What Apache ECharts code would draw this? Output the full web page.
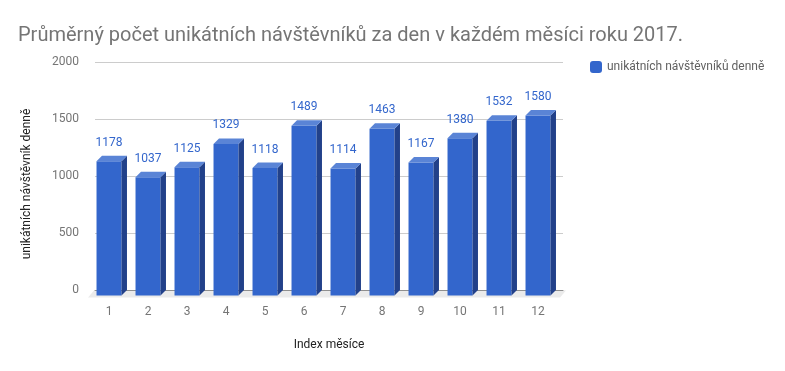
<!DOCTYPE html>
<html>
<head>
<meta charset="utf-8">
<script src="https://cdn.jsdelivr.net/npm/echarts@6/dist/echarts.min.js"></script>
<style>html,body{margin:0;padding:0;background:#fff}#c{width:785px;height:371px}</style>
</head>
<body>
<div id="c"></div>
<script>
const months = ['1','2','3','4','5','6','7','8','9','10','11','12'];
const visitors = [1178, 1037, 1125, 1329, 1118, 1489, 1114, 1463, 1167, 1380, 1532, 1580];
const yTicks = [0, 500, 1000, 1500, 2000];
const seriesName = 'unikátních návštěvníků denně';

const FONT = 'Roboto';
const D = 5.5;
const chart = echarts.init(document.getElementById('c'), null, {renderer: 'canvas'});

function renderBar(params, api) {
  const i = api.value(0), v = api.value(1);
  const back = api.coord([i, v]);
  const base = api.coord([i, 0]);
  const band = api.size([1, 0])[0];
  const w = band * 0.64;
  const cx = back[0] - D;
  const x0 = cx - w / 2, x1 = cx + w / 2;
  const yt = back[1] + D, yb = base[1] + D;
  return {
    type: 'group',
    children: [
      {type: 'rect', shape: {x: x0, y: yt, width: w, height: yb - yt}, style: {fill: '#3366cc'}},
      {type: 'polygon', shape: {points: [[x1, yt], [x1 + D, yt - D], [x1 + D, yb - D], [x1, yb]]}, style: {fill: '#22418a'}},
      {type: 'polygon', shape: {points: [[x0, yt], [x1, yt], [x1 + D, yt - D], [x0 + D, yt - D]]}, style: {fill: '#5a84d6'}},
      {type: 'text', style: {text: String(v), x: cx, y: back[1] - 13, align: 'center', verticalAlign: 'middle',
        fill: '#3366cc', font: '12px ' + FONT}}
    ]
  };
}

function renderFloor(params, api) {
  const c = params.coordSys;
  const y = c.y + c.height + 0.5;
  return {
    type: 'polygon',
    shape: {points: [[c.x - 1, y], [c.x + c.width + 3, y], [c.x + c.width - 3, y + 7], [c.x - 7, y + 7]]},
    style: {fill: '#ebebeb'}
  };
}

chart.setOption({
  animation: false,
  textStyle: {fontFamily: FONT},
  title: {
    text: 'Průměrný počet unikátních návštěvníků za den v každém měsíci roku 2017.',
    left: 13, top: 21,
    textStyle: {fontFamily: FONT, fontSize: 20, fontWeight: 'normal', color: '#757575'}
  },
  legend: {
    data: [seriesName],
    left: 585, top: 56,
    icon: 'roundRect', itemWidth: 12, itemHeight: 12, itemGap: 8,
    textStyle: {fontFamily: FONT, fontSize: 12, color: '#616161'}
  },
  grid: {left: 95, right: 222, top: 62, bottom: 81},
  xAxis: {
    type: 'category',
    data: months,
    name: 'Index měsíce',
    nameLocation: 'middle',
    nameGap: 49,
    nameTextStyle: {fontFamily: FONT, fontSize: 12, color: '#222'},
    axisLine: {show: true, lineStyle: {color: '#333', width: 1}},
    axisTick: {show: false},
    axisLabel: {color: '#757575', fontSize: 12, margin: 16, padding: [0, 11, 0, 0], fontFamily: FONT}
  },
  yAxis: {
    type: 'value',
    min: yTicks[0], max: yTicks[yTicks.length - 1], interval: 500,
    name: 'unikátních návštěvník denně',
    nameLocation: 'middle',
    nameRotate: 90,
    nameGap: 62,
    nameTextStyle: {fontFamily: FONT, fontSize: 12, color: '#222', padding: [0, 16, 0, 0]},
    axisLine: {show: false},
    axisTick: {show: false},
    axisLabel: {color: '#757575', fontSize: 12, margin: 16, fontFamily: FONT, formatter: v => String(v)},
    splitLine: {lineStyle: {color: '#cccccc'}}
  },
  series: [
    {
      type: 'custom', name: 'floor', z: 1, silent: true,
      renderItem: renderFloor, data: [[0, 0]], encode: {x: 0, y: 1}
    },
    {
      type: 'custom', name: seriesName, z: 3,
      itemStyle: {color: '#3366cc'},
      renderItem: renderBar,
      data: visitors.map((v, i) => [i, v]),
      encode: {x: 0, y: 1}
    }
  ]
});
</script>
</body>
</html>
